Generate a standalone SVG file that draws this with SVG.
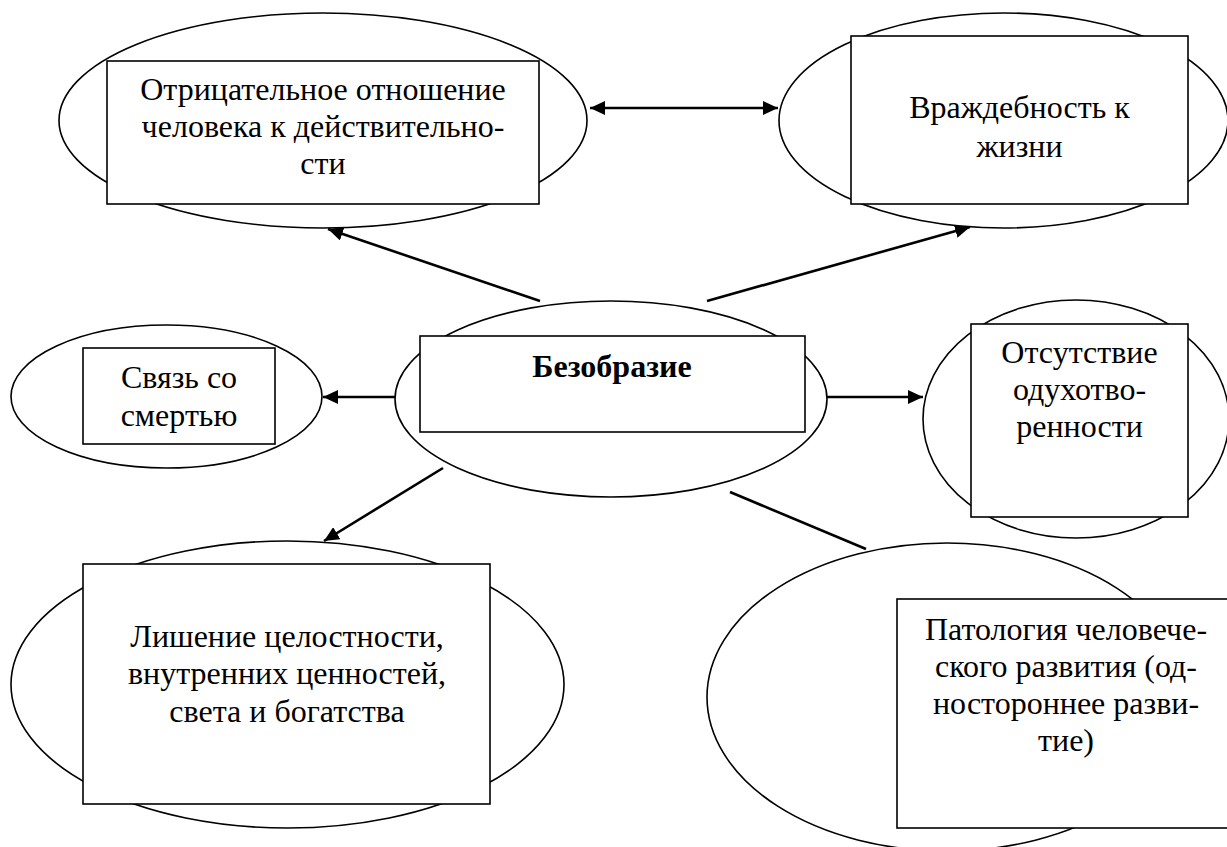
<svg xmlns="http://www.w3.org/2000/svg" width="1227" height="847" viewBox="0 0 1227 847">
<style>
.shape{fill:#fff;stroke:#000;stroke-width:1.6}
.t{font-family:"Liberation Serif","Times New Roman",serif;font-size:32px;fill:#000;text-anchor:middle}
.b{font-weight:bold}
.c{stroke:#000;stroke-width:2.6;fill:none}
</style>
<defs>
<marker id="arr" viewBox="0 0 15 14" refX="15" refY="7" markerWidth="15" markerHeight="14" markerUnits="userSpaceOnUse" orient="auto-start-reverse">
<path d="M0,0 L15,7 L0,14 z" fill="#000"/>
</marker>
</defs>
<rect x="0" y="0" width="1227" height="847" fill="#fff"/>
<g id="connectors">
<line class="c" x1="590" y1="108" x2="778" y2="108" marker-start="url(#arr)" marker-end="url(#arr)"/>
<line class="c" x1="540" y1="301" x2="328" y2="229" marker-end="url(#arr)"/>
<line class="c" x1="707" y1="301" x2="970" y2="227" marker-end="url(#arr)"/>
<line class="c" x1="395" y1="397" x2="323" y2="397" marker-end="url(#arr)"/>
<line class="c" x1="827" y1="397" x2="923" y2="397" marker-end="url(#arr)"/>
<line class="c" x1="443" y1="468" x2="324" y2="541" marker-end="url(#arr)"/>
<line class="c" x1="730" y1="492" x2="866" y2="549"/>
</g>
<g id="node-negative">
<ellipse class="shape" cx="323" cy="120.5" rx="264" ry="107.5"/>
<rect class="shape" x="107" y="61" width="432" height="143"/>
<text class="t" x="323" y="100">Отрицательное отношение</text>
<text class="t" x="323" y="137">человека к действительно-</text>
<text class="t" x="323" y="174">сти</text>
</g>
<g id="node-hostility">
<ellipse class="shape" cx="1003.5" cy="120.5" rx="224.5" ry="107.5"/>
<rect class="shape" x="851" y="36" width="337" height="168"/>
<text class="t" x="1019.5" y="118">Враждебность к</text>
<text class="t" x="1019.5" y="157">жизни</text>
</g>
<g id="node-ugliness">
<ellipse class="shape" cx="611" cy="399" rx="216" ry="98"/>
<rect class="shape" x="420" y="336" width="385" height="96"/>
<text class="t b" x="612" y="377">Безобразие</text>
</g>
<g id="node-death">
<ellipse class="shape" cx="166.5" cy="396.5" rx="155.5" ry="71.5"/>
<rect class="shape" x="83" y="348" width="192" height="96"/>
<text class="t" x="179" y="388">Связь со</text>
<text class="t" x="179" y="426">смертью</text>
</g>
<g id="node-spirit">
<ellipse class="shape" cx="1076" cy="419" rx="153" ry="119"/>
<rect class="shape" x="971" y="324" width="217" height="193"/>
<text class="t" x="1079.5" y="363">Отсутствие</text>
<text class="t" x="1079.5" y="400">одухотво-</text>
<text class="t" x="1079.5" y="437">ренности</text>
</g>
<g id="node-integrity">
<ellipse class="shape" cx="287.5" cy="684.5" rx="276.5" ry="143.5"/>
<rect class="shape" x="83" y="564" width="407" height="240"/>
<text class="t" x="287" y="647">Лишение целостности,</text>
<text class="t" x="287" y="684">внутренних ценностей,</text>
<text class="t" x="287" y="722">света и богатства</text>
</g>
<g id="node-pathology">
<ellipse class="shape" cx="947" cy="697" rx="240" ry="154"/>
<rect class="shape" x="897" y="599" width="345" height="229"/>
<text class="t" x="1066" y="640">Патология человече-</text>
<text class="t" x="1066" y="677">ского развития (од-</text>
<text class="t" x="1066" y="714">ностороннее разви-</text>
<text class="t" x="1066" y="751">тие)</text>
</g>
</svg>
